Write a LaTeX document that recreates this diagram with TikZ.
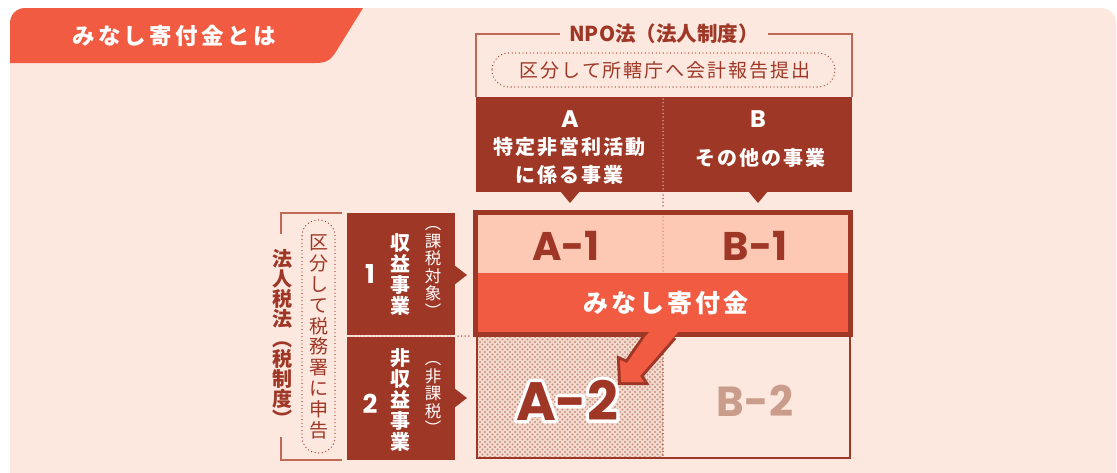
\documentclass[tikz,border=0pt]{standalone}
\usepackage{fontspec}
\setmainfont{Noto Sans CJK JP}
\newfontfamily\jp{Noto Sans CJK JP}
\newfontfamily\lat{Poppins}
\usetikzlibrary{patterns,calc}

\definecolor{dred}{HTML}{9F3727}
\definecolor{tabred}{HTML}{F15B42}
\definecolor{pinkc}{HTML}{FDC9B5}
\definecolor{panelc}{HTML}{FCE8DE}
\definecolor{bline}{HTML}{BE6A57}
\definecolor{btwo}{HTML}{C99C8C}
\definecolor{dotc}{HTML}{C98E7D}
\definecolor{atwobg}{HTML}{F4DCD1}
\definecolor{lightdot}{HTML}{E9B5A5}
\definecolor{middot}{HTML}{C98A78}

\pgfdeclarepatternformonly{mydots}{\pgfpoint{-1.2pt}{-1.2pt}}{\pgfpoint{4pt}{4pt}}{\pgfpoint{5pt}{5pt}}{%
  \pgfpathcircle{\pgfpoint{0pt}{0pt}}{1.1pt}%
  \pgfpathcircle{\pgfpoint{2.5pt}{2.5pt}}{1.1pt}%
  \pgfusepath{fill}}

\newcommand{\ls}[1]{\addfontfeature{LetterSpace=#1}}
\newcommand{\strokedtext}[2]{\special{pdf:literal direct 2 Tr #1 w 1 j}#2\special{pdf:literal direct 0 Tr}}

\tikzset{
  dotline/.style={line width=1.5pt, line cap=round, dash pattern=on 0pt off 3.6pt},
  bracketline/.style={bline, line width=1.5pt},
  hdrbox/.style={fill=dred, anchor=north west},
}

\begin{document}
\begin{tikzpicture}[x=1pt,y=-1pt, every node/.style={inner sep=0pt,outer sep=0pt}]
\useasboundingbox (0,0) rectangle (1117,472);
\fill[white] (0,0) rectangle (1117,472);
% panel
\fill[panelc, rounded corners=15] (10,8) rectangle (1116,520);
% title tab
\fill[tabred] (10,63) -- (10,23) .. controls (10,14.7) and (16.7,8) .. (25,8) -- (363,8) -- (337,50) .. controls (331,60) and (327,63) .. (315,63) -- cycle;
\node[text=white, font=\jp\bfseries\ls{15}\fontsize{22.5}{22.5}\selectfont] (title) at (174,36) {みなし寄付金とは};

% NPO bracket
\node[text=dred, font=\jp\bfseries\fontsize{20.5}{20.5}\selectfont] (npo) at (664,34) {NPO法（法人制度）};
\draw[bracketline] ([xshift=-9pt]npo.west) -- (476,34) -- (476,97);
\draw[bracketline] ([xshift=9pt]npo.east) -- (852,34) -- (852,97);
\draw[dred, dotline, line width=1.3pt, rounded corners=17] (492,53) rectangle (835,87);
\node[text=dred, font=\jp\ls{10}\fontsize{19}{19}\selectfont] (npodiv) at (665,70) {区分して所轄庁へ会計報告提出};

% column headers
\node[hdrbox, minimum width=187, minimum height=95] (hA) at (476,97) {};
\node[hdrbox, minimum width=189, minimum height=95] (hB) at (663,97) {};
\fill[dred] (560,191) -- (580,191) -- (570,203) -- cycle;
\fill[dred] (748,191) -- (768,191) -- (758,203) -- cycle;
\draw[lightdot, dotline] (663,99) -- (663,191);
\draw[dred, dotline] (663,195) -- (663,209);
\node[text=white, font=\lat\bfseries\fontsize{24}{24}\selectfont] (lA) at (570,119) {A};
\node[text=white, font=\jp\bfseries\ls{10}\fontsize{20}{20}\selectfont] (tA1) at (569,147) {特定非営利活動};
\node[text=white, font=\jp\bfseries\ls{10}\fontsize{20}{20}\selectfont] (tA2) at (569,175) {に係る事業};
\node[text=white, font=\lat\bfseries\fontsize{24}{24}\selectfont] (lB) at (758,119) {B};
\node[text=white, font=\jp\bfseries\ls{10}\fontsize{20}{20}\selectfont] (tB1) at (760,158) {その他の事業};

% main cells
\fill[pinkc] (478,215) rectangle (848,273);
\fill[tabred] (478,273) rectangle (848,332);
\draw[middot, dotline] (663,217) -- (663,272);
\fill[atwobg] (477,337) rectangle (663,458);
\fill[pattern=mydots, pattern color=dotc] (477,337) rectangle (663,458);
\draw[dred, dotline] (663,340) -- (663,457);
\draw[dred, line width=2pt] (477,336) rectangle (850,458);
\draw[dred, line width=5pt] (475.5,212.5) rectangle (850.5,334.5);

\node[text=dred, font=\lat\bfseries\fontsize{40}{40}\selectfont] (a1) at (566,246) {A-1};
\node[text=dred, font=\lat\bfseries\fontsize{40}{40}\selectfont] (b1) at (755,246) {B-1};
\node[text=white, font=\jp\bfseries\ls{12}\fontsize{25}{25}\selectfont] (mina) at (666,303) {みなし寄付金};
\node[text=btwo, font=\lat\bfseries\fontsize{42}{42}\selectfont] (b2) at (755,401) {B-2};
\node[text=white, font=\lat\bfseries\fontsize{54}{54}\selectfont] (a2o) at (567,400) {\strokedtext{6.6}{A-2}};
\node[text=dred, font=\lat\bfseries\fontsize{54}{54}\selectfont] (a2) at (567,400) {A-2};

% callout pointer
\draw[dred, line width=6pt, line join=miter] (645,337) -- (627,363) -- (620,360) -- (621,382) -- (644,382) -- (640,376) -- (674,337);
\fill[tabred] (650,331) -- (645,337) -- (627,363) -- (620,360) -- (621,382) -- (644,382) -- (640,376) -- (674,337) -- (679,331) -- cycle;

% row headers
\node[hdrbox, minimum width=108, minimum height=122] (r1) at (347,213) {};
\node[hdrbox, minimum width=108, minimum height=123] (r2) at (347,337) {};
\fill[dred] (454,265) -- (467,275) -- (454,285) -- cycle;
\fill[dred] (454,388) -- (467,398) -- (454,408) -- cycle;
\draw[lightdot, dotline] (350,336) -- (453,336);
\draw[dred, dotline] (458,336) -- (472,336);

\node[text=white, font=\lat\bfseries\fontsize{26}{26}\selectfont] (n1) at (370,274) {1};
\node[text=white, font=\jp\bfseries\fontsize{20}{21}\selectfont, align=center] (v1) at (400,274) {収\\益\\事\\業};
\node[text=white, font=\jp\fontsize{16.5}{17.5}\selectfont, align=center] (v1p) at (433,272) {︵\\課\\税\\対\\象\\︶};
\node[text=white, font=\lat\bfseries\fontsize{26}{26}\selectfont] (n2) at (370,404) {2};
\node[text=white, font=\jp\bfseries\fontsize{20}{21}\selectfont, align=center] (v2) at (400,400) {非\\収\\益\\事\\業};
\node[text=white, font=\jp\fontsize{16.5}{17.5}\selectfont, align=center] (v2p) at (433,398) {︵\\非\\課\\税\\︶};

% left bracket
\node[text=dred, font=\jp\bfseries\fontsize{20}{20}\selectfont, align=center] (law) at (282,338) {法\\人\\税\\法\\︵\\税\\制\\度\\︶};
\draw[bracketline] (342,213) -- (281,213) -- (281,234);
\draw[bracketline] (281,437) -- (281,460) -- (342,460);
\draw[dred, dotline, line width=1.3pt, rounded corners=16] (302,220) rectangle (335,453);
\node[text=dred, font=\jp\fontsize{19}{20.8}\selectfont, align=center] (taxdiv) at (319,337) {区\\分\\し\\て\\税\\務\\署\\に\\申\\告};
\end{tikzpicture}
\end{document}
